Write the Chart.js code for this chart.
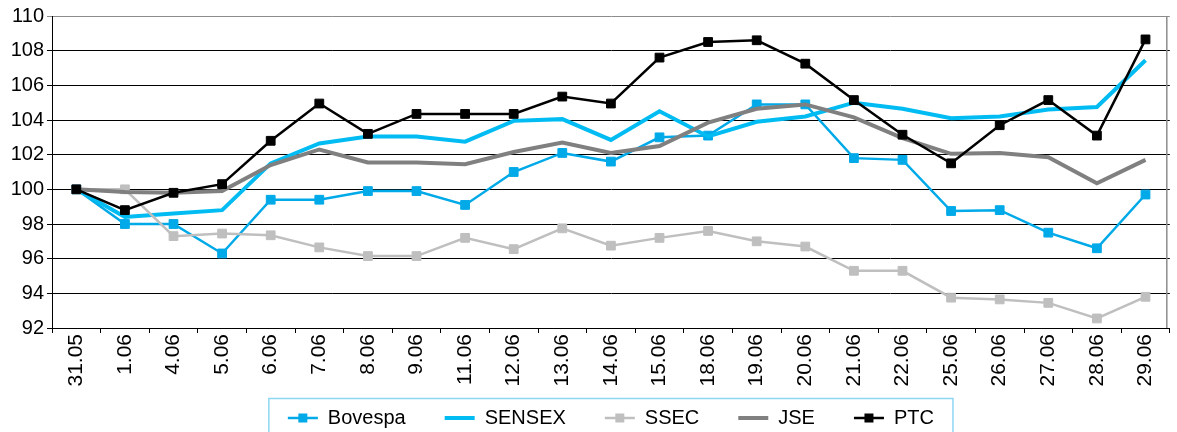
<!DOCTYPE html>
<html>
<head>
<meta charset="utf-8">
<script src="https://cdn.jsdelivr.net/npm/chart.js@4.4.1/dist/chart.umd.min.js"></script>
<style>
html,body{margin:0;padding:0;background:#fff;}
#wrap{width:1177px;height:432px;position:relative;}
</style>
</head>
<body>
<div id="wrap"><canvas id="c" width="1177" height="432"></canvas></div>
<script>
const categories = ["31.05","1.06","4.06","5.06","6.06","7.06","8.06","9.06","11.06","12.06","13.06","14.06","15.06","18.06","19.06","20.06","21.06","22.06","25.06","26.06","27.06","28.06","29.06"];
const bovespa = [100,98.0,98.0,96.3,99.4,99.4,99.9,99.9,99.1,101.0,102.1,101.6,103.0,103.1,104.9,104.9,101.8,101.7,98.75,98.8,97.5,96.6,99.7];
const sensex  = [100,98.4,98.6,98.8,101.5,102.65,103.05,103.05,102.75,103.95,104.05,102.85,104.5,103.05,103.9,104.2,105.0,104.65,104.1,104.2,104.6,104.75,107.45];
const ssec    = [100,100.0,97.3,97.45,97.35,96.65,96.15,96.15,97.2,96.55,97.75,96.75,97.2,97.6,97.0,96.7,95.3,95.3,93.75,93.65,93.45,92.55,93.8];
const jse     = [100,99.85,99.8,99.9,101.4,102.3,101.55,101.55,101.45,102.15,102.7,102.1,102.5,103.85,104.65,104.9,104.15,102.95,102.05,102.1,101.85,100.35,101.7];
const ptc     = [100,98.8,99.8,100.3,102.8,104.95,103.2,104.35,104.35,104.35,105.35,104.95,107.6,108.5,108.6,107.25,105.15,103.15,101.5,103.7,105.15,103.1,108.65];
const yMin = 92, yMax = 110, yStep = 2;

const FONT = "'Liberation Sans', Arial, Helvetica, sans-serif";

function ds(label, data, color, width, marker, order) {
  return {
    label, data, borderColor: color, backgroundColor: color,
    borderWidth: width, tension: 0, order,
    pointStyle: 'rect', pointRadius: marker ? 6.2 : 0, pointHoverRadius: marker ? 6.2 : 0,
    pointBorderWidth: 1, pointBorderColor: color, pointBackgroundColor: color,
    _marker: marker
  };
}

const legendDeco = {
  id: 'legendDeco',
  afterDraw(chart) {
    const lg = chart.legend;
    if (!lg || !lg.legendHitBoxes || !lg.legendHitBoxes.length) return;
    const ctx = chart.ctx;
    const boxes = lg.legendHitBoxes;
    const items = lg.legendItems;
    const fs = 20;
    ctx.save();
    const ca = chart.chartArea;
    ctx.strokeStyle = '#8c8c8c';
    ctx.lineWidth = 1.5;
    ctx.beginPath();
    ctx.moveTo(ca.right - 3, ca.top);
    ctx.lineTo(ca.right - 3, ca.bottom);
    ctx.stroke();
    items.forEach((it, i) => {
      const b = boxes[i];
      const d = chart.data.datasets[it.datasetIndex];
      const cy = b.top + fs / 2;
      const x0 = b.left, x1 = b.left + 30;
      ctx.strokeStyle = d.borderColor;
      ctx.lineWidth = d.borderWidth;
      ctx.beginPath();
      ctx.moveTo(x0, cy);
      ctx.lineTo(x1, cy);
      ctx.stroke();
      if (d._marker) {
        ctx.fillStyle = d.borderColor;
        ctx.fillRect((x0 + x1) / 2 - 4.5, cy - 4.5, 9, 9);
      }
    });
    const first = boxes[0], last = boxes[boxes.length - 1];
    const left = first.left - 19;
    const right = last.left + last.width + 19;
    const top = first.top + fs / 2 - 19.5;
    ctx.strokeStyle = '#8fd6f3';
    ctx.lineWidth = 1.5;
    ctx.strokeRect(left, top, right - left, 60);
    ctx.restore();
  }
};

new Chart(document.getElementById('c'), {
  type: 'line',
  data: {
    labels: categories,
    datasets: [
      ds('Bovespa', bovespa, '#00a9e8', 2.5, true, 5),
      ds('SENSEX', sensex, '#00bcf2', 4, false, 4),
      ds('SSEC', ssec, '#bfbfbf', 2.5, true, 3),
      ds('JSE', jse, '#808080', 4, false, 2),
      ds('PTC', ptc, '#000000', 2.5, true, 1)
    ]
  },
  options: {
    responsive: false,
    animation: false,
    devicePixelRatio: 1,
    layout: { padding: { top: 16, left: 0, right: 0, bottom: -6 } },
    plugins: {
      tooltip: { enabled: false },
      legend: {
        position: 'bottom',
        fullSize: false,
        labels: {
          font: { family: FONT, size: 20 },
          color: '#000',
          boxWidth: 30,
          boxHeight: 3,
          padding: 39,
          sort: (a, b) => a.datasetIndex - b.datasetIndex,
          generateLabels(chart) {
            const base = Chart.defaults.plugins.legend.labels.generateLabels(chart);
            return base.map(l => Object.assign(l, { fillStyle: 'rgba(0,0,0,0)', strokeStyle: 'rgba(0,0,0,0)', lineWidth: 0 }));
          }
        }
      }
    },
    scales: {
      x: {
        offset: true,
        grid: { display: true, drawOnChartArea: false, drawTicks: true, tickLength: 5, color: '#000', offset: true },
        border: { display: true, color: '#000', width: 1 },
        ticks: { font: { family: FONT, size: 21 }, color: '#000', minRotation: 90, maxRotation: 90, autoSkip: false, padding: 1 },
        afterFit(scale) {
          scale.height = 41;
          scale._computeLabelArea = function () { return undefined; };
        }
      },
      y: {
        min: yMin, max: yMax,
        grid: {
          color: c => (c.tick && c.tick.value === yMax) ? '#8c8c8c' : '#000',
          lineWidth: 1, tickLength: 5, drawTicks: true
        },
        border: { display: true, color: '#000', width: 1 },
        ticks: { stepSize: yStep, font: { family: FONT, size: 20 }, color: '#000', padding: 3 },
        afterFit(scale) { scale.width = 52; }
      }
    }
  },
  plugins: [legendDeco]
});
</script>
</body>
</html>
